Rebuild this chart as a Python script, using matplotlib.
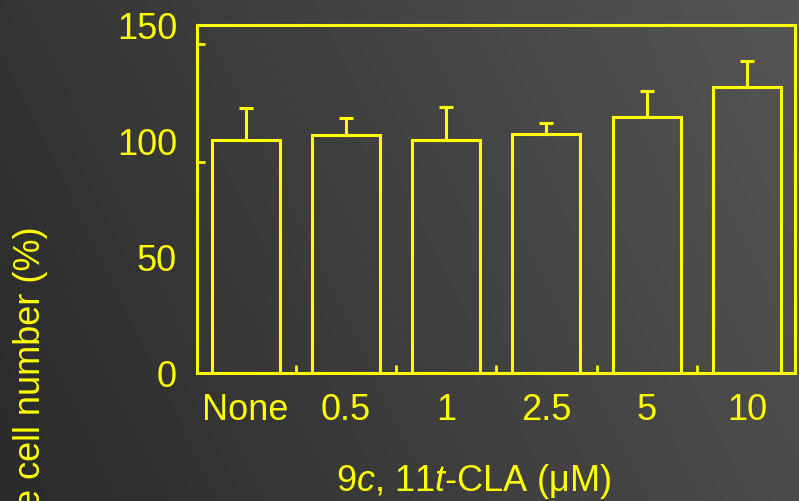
"""Relative cell number after 9c,11t-CLA treatment (bar chart with SD)."""

import matplotlib
matplotlib.use("Agg")
import matplotlib.pyplot as plt
import numpy as np

# ── Data ─────────────────────────────────────────────────────────────────

doses = ["None", "0.5", "1", "2.5", "5", "10"]
cell_number = [100.3, 102.4, 100.3, 103.0, 110.1, 123.1]
cell_number_sd = [13.6, 7.2, 14.3, 4.7, 11.4, 11.2]

y_ticks = [0, 50, 100, 150]
y_tick_marks = [90.8, 141.6]

# ── Style ────────────────────────────────────────────────────────────────

YELLOW = "#ffff00"
FS = 26
plt.rcParams["font.family"] = ["Liberation Sans", "DejaVu Sans"]
plt.rcParams["mathtext.fontset"] = "custom"
plt.rcParams["mathtext.rm"] = "Liberation Sans"
plt.rcParams["mathtext.it"] = "Liberation Sans:italic"

fig = plt.figure(figsize=(7.99, 5.02), dpi=100)

# dark slide background, lighter towards the top right
bg = fig.add_axes([0, 0, 1, 1], zorder=-10)
gx, gy = np.meshgrid(np.linspace(0, 1, 400), np.linspace(0, 1, 250))
shade = (42 + 33 * gx + 10 * gy) / 255.0
bg.imshow(np.dstack([shade, shade, shade]), origin="lower", aspect="auto",
          extent=(0, 1, 0, 1))
bg.set_axis_off()

ax = fig.add_axes([0.246, 0.255, 0.749, 0.694])
ax.patch.set_alpha(0)

x = np.arange(len(doses))
ax.bar(x, cell_number, width=0.68, facecolor="none", edgecolor=YELLOW,
       linewidth=2.2, zorder=3)
ax.errorbar(x, cell_number, yerr=[np.zeros(len(x)), cell_number_sd],
            fmt="none", ecolor=YELLOW, elinewidth=2.2, capsize=5,
            capthick=2.2, zorder=2)

ax.set_xlim(-0.49, 5.48)
ax.set_ylim(0, 150)

for spine in ax.spines.values():
    spine.set_color(YELLOW)
    spine.set_linewidth(2.2)

ax.set_xticks(x)
ax.set_xticklabels(doses)
ax.set_xticks(x[:-1] + 0.5, minor=True)
ax.set_yticks(y_ticks)
ax.set_yticks(y_tick_marks, minor=True)
ax.tick_params(which="major", length=0, labelsize=FS, labelcolor=YELLOW)
ax.tick_params(axis="x", which="major", pad=14)
ax.tick_params(axis="y", which="major", pad=14)
ax.tick_params(which="minor", direction="in", length=6, width=2,
               color=YELLOW)

fig.text(474 / 799, 1 - 482 / 502, r"9$\it{c}$, 11$\it{t}$-CLA (μM)",
         color=YELLOW, fontsize=FS, ha="center", va="center")
fig.text(31 / 799, 1 - 226 / 502, "Relative cell number (%)",
         color=YELLOW, fontsize=FS, rotation=90, ha="center", va="top")

fig.savefig("out.png", dpi=100)
